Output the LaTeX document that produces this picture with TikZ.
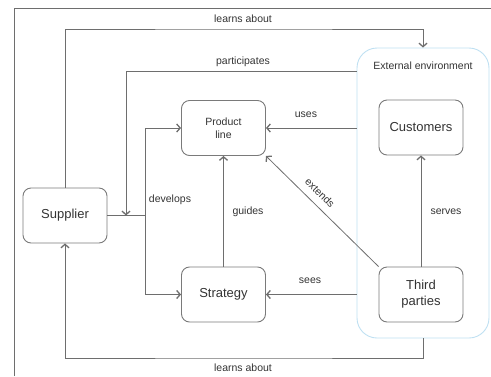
\documentclass[tikz,border=0pt]{standalone}
\usepackage{fontspec}
\setmainfont{Liberation Sans}
\usetikzlibrary{arrows.meta}
\definecolor{linec}{HTML}{6E6E6E}
\definecolor{boxc}{HTML}{7A7A7A}
\definecolor{txtc}{HTML}{333333}
\definecolor{envc}{HTML}{BFE0F2}
\begin{document}
\begin{tikzpicture}[x=1pt,y=-1pt,
  box/.style={draw=boxc,line width=0.9pt,rounded corners=8pt,fill=white,
    minimum width=84pt,minimum height=55pt,align=center,text=txtc,inner sep=1pt},
  bigt/.style={font=\fontsize{13}{16}\selectfont},
  smallt/.style={font=\fontsize{10.5}{13}\selectfont},
  lbl/.style={font=\fontsize{10.5}{12}\selectfont,text=txtc,inner sep=1pt},
  conn/.style={draw=linec,line width=0.8pt},
  arr/.style={conn,-{Straight Barb[length=3.5pt,width=8pt,line width=1.3pt]}}]
\useasboundingbox (0,0) rectangle (491,376);
% outer frame
\draw[draw=linec,line width=0.9pt] (14,376) -- (14,8) -- (491,8);
% environment box
\node[draw=envc,line width=0.9pt,rounded corners=20pt,minimum width=132pt,minimum height=290pt] (env) at (423,193) {};
\node[lbl] (envlbl) at (423,66) {External environment};
% boxes
\node[box,bigt] (supplier) at (65,215.5) {Supplier};
\node[box,smallt] (product) at (223.5,128) {Product\\line};
\node[box,bigt] (strategy) at (223.5,294.5) {Strategy};
\node[box,bigt] (customers) at (421,127.5) {Customers};
\node[box,bigt] (third) at (421,294.5) {Third\\parties};
% helper coordinates
\coordinate (split) at (145,215.5);
\coordinate (ptop) at (126,71);
\coordinate (pdown) at (126,215.5);
\coordinate (ltop) at (243,29);
\coordinate (lbot) at (243,358);
% connectors
\draw[conn] (supplier.east) -- (split);
\draw[arr] (split) |- (product.west);
\draw[arr] (split) |- (strategy.west);
\draw[arr] (env.west |- ptop) -- (ptop) -- (pdown);
\draw[arr] (supplier.north) |- (ltop) -| (env.north);
\draw[arr] (env.south) |- (lbot) -| (supplier.south);
\draw[arr] (env.west |- product.east) -- (product.east);
\draw[arr] (env.west |- strategy.east) -- (strategy.east);
\draw[arr] (strategy.north) -- (product.south);
\draw[arr] (third.north) -- (customers.south);
\draw[arr] (third.north west) -- (product.south east);
% labels
\node[lbl] (l1) at (243,19) {learns about};
\node[lbl] (l2) at (243,62) {participates};
\node[lbl] (l3) at (243,368) {learns about};
\node[lbl] (l4) at (170,200) {develops};
\node[lbl] (l5) at (306,115) {uses};
\node[lbl] (l6) at (310,281) {sees};
\node[lbl] (l7) at (248,212) {guides};
\node[lbl] (l8) at (446,212) {serves};
\node[lbl,rotate=-44.5] (l9) at (320,193) {extends};
\end{tikzpicture}
\end{document}
